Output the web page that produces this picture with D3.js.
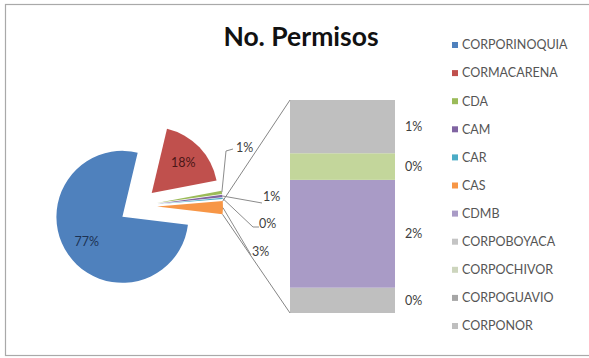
<!DOCTYPE html>
<html>
<head>
<meta charset="utf-8">
<script src="https://cdn.jsdelivr.net/npm/d3@7"></script>
<style>
  html, body { margin: 0; padding: 0; background: #ffffff; }
  svg { display: block; }
  text { font-family: Lato, "Open Sans", "Noto Sans", sans-serif; }
</style>
</head>
<body>
<svg id="chart" width="589" height="358"></svg>
<script>
// Permits per environmental authority (share of total, %)
const categories = [
  "CORPORINOQUIA", "CORMACARENA", "CDA", "CAM", "CAR", "CAS",
  "CDMB", "CORPOBOYACA", "CORPOCHIVOR", "CORPOGUAVIO", "CORPONOR"
];
const categoryColors = [
  "#4f81bd", "#c0504d", "#9bbb59", "#8064a2", "#4bacc6", "#f79646",
  "#a99bc6", "#c4c4c4", "#cdd5bd", "#a6a6a6", "#bfbfbf"
];

// Slices drawn in the pie (the remaining authorities are grouped into "Other")
const pieNames  = ["CORPORINOQUIA", "CORMACARENA", "CDA", "CAM", "CAR"];
const pieValues = [76.8, 18.3, 0.8, 0.6, 0.3];

// Stacked bar that breaks down the "Other" slice (bottom to top)
const barNames  = ["CORPONOR", "CDMB", "CORPOCHIVOR", "CORPOBOYACA"];
const barValues = [0.38, 1.62, 0.40, 0.80];
const barColors = ["#bfbfbf", "#a99bc6", "#c3d69b", "#bfbfbf"];

const title = "No. Permisos";

const svg = d3.select("#chart");
const color = d3.scaleOrdinal().domain(categories).range(categoryColors);
const fmt = v => Math.round(v) + "%";

// Chart frame
svg.append("rect")
  .attr("x", 5.5).attr("y", 4.5)
  .attr("width", 600).attr("height", 351)
  .attr("fill", "#ffffff")
  .attr("stroke", "#a9a9a9").attr("stroke-width", 1.2);

// Title
svg.append("text")
  .attr("x", 301).attr("y", 46)
  .attr("text-anchor", "middle")
  .attr("font-size", 26.5).attr("font-weight", 700)
  .attr("fill", "#111111")
  .text(title);

// ---------- Pie ----------
const otherValue = d3.sum(barValues);
const pieData = pieNames.map((n, i) => ({ name: n, value: pieValues[i], color: color(n) }))
  .concat([{ name: "Other", value: otherValue, color: color("CAS"), other: true }]);

const cx = 138, cy = 206, r = 66, explode = 19;
const a0 = 96.9 * Math.PI / 180;
const pie = d3.pie().sort(null).value(d => d.value)
  .startAngle(a0).endAngle(a0 + 2 * Math.PI);
const arcs = pie(pieData);
const arc = d3.arc().innerRadius(0).outerRadius(r);

arcs.forEach(a => {
  const mid = (a.startAngle + a.endAngle) / 2;
  a.mid = mid;
  a.ox = cx + explode * Math.sin(mid);
  a.oy = cy - explode * Math.cos(mid);
  a.pt = ang => [a.ox + r * Math.sin(ang), a.oy - r * Math.cos(ang)];
});

const gPie = svg.append("g");
gPie.selectAll("path.slice")
  .data(arcs)
  .join("path")
  .attr("class", "slice")
  .attr("transform", d => `translate(${d.ox},${d.oy})`)
  .attr("d", arc)
  .attr("fill", d => d.data.color);

// Inside labels for the two large slices
const insideColors = ["#1d3253", "#4a1616"];
arcs.slice(0, 2).forEach((a, i) => {
  const k = 0.66 * r;
  gPie.append("text")
    .attr("x", a.ox + k * Math.sin(a.mid))
    .attr("y", a.oy - k * Math.cos(a.mid))
    .attr("dy", "0.35em")
    .attr("text-anchor", "middle")
    .attr("font-size", 12.5)
    .attr("fill", insideColors[i])
    .text(fmt(a.data.value));
});

// Outside labels with leader lines for the small slices
const outside = [
  { idx: 2, bend: [226, 151], end: [233, 149], tx: 236, ty: 148 },
  { idx: 3, bend: null,       end: [262, 203], tx: 263, ty: 197 },
  { idx: 4, bend: [253, 227], end: [259, 227], tx: 259, ty: 224 },
  { idx: 5, bend: null,       end: [251, 255], tx: 252, ty: 252 }
];
outside.forEach(o => {
  const a = arcs[o.idx];
  const p = a.pt(a.mid);
  const pts = [p];
  if (o.bend) pts.push(o.bend);
  pts.push(o.end);
  gPie.append("path")
    .attr("d", d3.line()(pts))
    .attr("fill", "none")
    .attr("stroke", "#8c8c8c").attr("stroke-width", 1);
  gPie.append("text")
    .attr("x", o.tx).attr("y", o.ty)
    .attr("dy", "0.35em")
    .attr("font-size", 12.5)
    .attr("fill", "#404040")
    .text(fmt(a.data.value));
});

// ---------- Stacked bar ----------
const barX = 290, barW = 105, barTop = 100, barBottom = 313;
const y = d3.scaleLinear().domain([0, otherValue]).range([barBottom, barTop]);
let acc = 0;
const segs = barValues.map((v, i) => {
  const s = { name: barNames[i], v, y0: acc, y1: acc + v, color: barColors[i] };
  acc += v;
  return s;
});

const gBar = svg.append("g");
gBar.selectAll("rect")
  .data(segs)
  .join("rect")
  .attr("x", barX)
  .attr("y", d => y(d.y1))
  .attr("width", barW)
  .attr("height", d => y(d.y0) - y(d.y1))
  .attr("fill", d => d.color);

gBar.selectAll("text")
  .data(segs)
  .join("text")
  .attr("x", 405)
  .attr("y", d => y((d.y0 + d.y1) / 2))
  .attr("dy", "0.35em")
  .attr("font-size", 12.5)
  .attr("fill", "#404040")
  .text(d => fmt(d.v));

// Connector lines from the "Other" slice to the bar
const other = arcs[arcs.length - 1];
const pTop = other.pt(other.startAngle);
const pBot = other.pt(other.endAngle);
svg.append("line")
  .attr("x1", pTop[0]).attr("y1", pTop[1])
  .attr("x2", barX).attr("y2", y(otherValue))
  .attr("stroke", "#858585").attr("stroke-width", 1);
svg.append("line")
  .attr("x1", pBot[0]).attr("y1", pBot[1])
  .attr("x2", barX).attr("y2", y(0))
  .attr("stroke", "#858585").attr("stroke-width", 1);

// ---------- Legend ----------
const legend = svg.append("g");
const ly = d3.scalePoint().domain(categories).range([45, 326]);
const items = legend.selectAll("g")
  .data(categories)
  .join("g")
  .attr("transform", d => `translate(452,${ly(d)})`);
items.append("rect")
  .attr("x", 0).attr("y", -3)
  .attr("width", 6).attr("height", 6)
  .attr("fill", d => color(d));
items.append("text")
  .attr("x", 10).attr("y", 0)
  .attr("dy", "0.35em")
  .attr("font-size", 12.5)
  .attr("fill", "#555555")
  .text(d => d);
</script>
</body>
</html>
